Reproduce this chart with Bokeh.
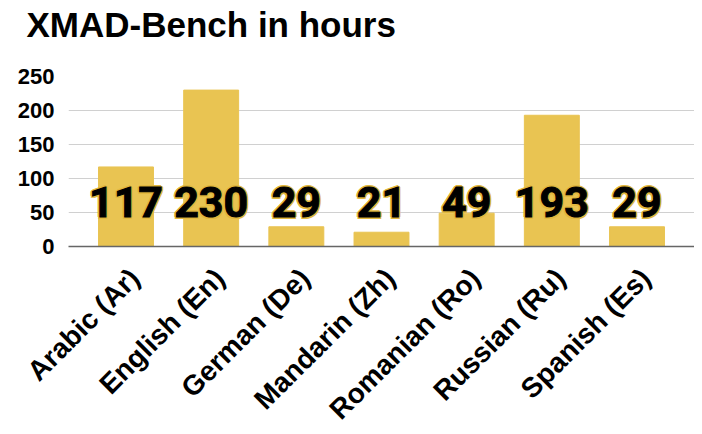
import math
from bokeh.plotting import figure
from bokeh.models import (ColumnDataSource, Range1d, Title, LinearAxis,
                          FixedTicker)
from bokeh.core.properties import value
from bokeh.embed import file_html
from bokeh.resources import INLINE

title_text = "XMAD-Bench in hours"
categories = ["Arabic (Ar)", "English (En)", "German (De)", "Mandarin (Zh)",
              "Romanian (Ro)", "Russian (Ru)", "Spanish (Es)"]
hours = [117, 230, 29, 21, 49, 193, 29]
y_ticks = [0, 50, 100, 150, 200, 250]

BAR = "#E9C452"
label_y = 65
PAD = 0.05

n = len(categories)
pos = [i + 0.5 for i in range(n)]   # slot centres of the categories
src = ColumnDataSource(dict(cat=categories, x=pos, hours=hours,
                            lab=[str(h) for h in hours],
                            ly=[label_y] * n))

half = n * PAD / 2
p = figure(frame_width=626, frame_height=170, output_backend="svg",
           toolbar_location=None, x_axis_type=None,
           x_range=Range1d(-half, n + half),
           y_range=Range1d(0, 250),
           min_border_left=68, min_border_right=0, min_border_top=0,
           min_border_bottom=0)
p.outline_line_color = None
p.background_fill_color = "white"

# spacer between title and plot area, then the title itself
p.add_layout(Title(text=" ", text_font_size="10px", standoff=18), "above")
p.add_layout(Title(text=title_text, text_font="Liberation Sans",
                   text_font_style="bold", text_font_size="35px",
                   text_color="black", align="left", offset=-42, standoff=4),
             "above")

# category axis on a twin range (labels nudged right as in the reference)
shift = 0.1
p.extra_x_ranges = {"lab": Range1d(start=-half - shift, end=n + half - shift)}
xaxis = LinearAxis(x_range_name="lab", ticker=FixedTicker(ticks=pos),
                   major_label_overrides={t: c for t, c in zip(pos, categories)})
xaxis.axis_line_color = "#666666"
xaxis.axis_line_width = 1.5
xaxis.major_tick_line_color = None
xaxis.minor_tick_line_color = None
xaxis.major_label_orientation = math.pi / 4
xaxis.major_label_text_font = "Liberation Sans"
xaxis.major_label_text_font_style = "bold"
xaxis.major_label_text_font_size = "28px"
xaxis.major_label_text_color = "black"
xaxis.major_label_standoff = 21
p.add_layout(xaxis, "below")

p.vbar(x="x", top="hours", width=0.645, source=src, color=BAR,
       line_color=BAR, line_join="round")

# yellow halo around the value labels
d = 2.0
for dx, dy in [(-d, 0), (d, 0), (0, -d), (0, d),
               (-d * 0.7, -d * 0.7), (d * 0.7, -d * 0.7),
               (-d * 0.7, d * 0.7), (d * 0.7, d * 0.7)]:
    p.text(x="x", y="ly", text="lab", source=src, text_align="center",
           text_baseline="middle", text_font=value("Roboto"),
           text_font_style="bold", text_font_size="43px", text_color="#E2B83E",
           x_offset=dx, y_offset=dy)

p.text(x="x", y="ly", text="lab", source=src, text_align="center",
       text_baseline="middle", text_font=value("Roboto"),
       text_font_style="bold", text_font_size="43px", text_color="black",
       text_outline_color="black")

p.yaxis.ticker = y_ticks
p.yaxis.axis_line_color = None
p.yaxis.major_tick_line_color = None
p.yaxis.minor_tick_line_color = None
p.yaxis.major_label_text_font = "Liberation Sans"
p.yaxis.major_label_text_font_style = "bold"
p.yaxis.major_label_text_font_size = "22px"
p.yaxis.major_label_text_color = "black"
p.yaxis.major_label_standoff = 8

p.xgrid.grid_line_color = None
p.ygrid.grid_line_color = "#D0D0D0"
p.ygrid.grid_line_width = 1.2

open("out.html", "w").write(file_html(p, INLINE))
